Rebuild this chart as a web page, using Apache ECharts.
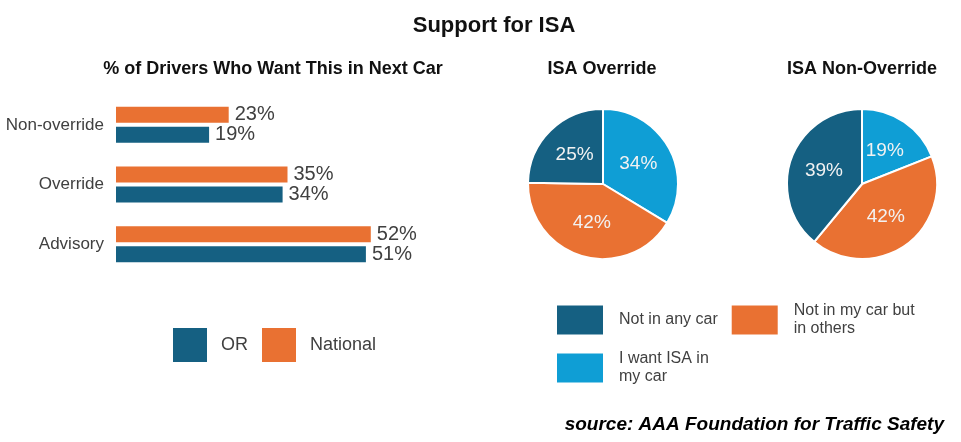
<!DOCTYPE html>
<html>
<head>
<meta charset="utf-8">
<script src="https://cdn.jsdelivr.net/npm/echarts@6/dist/echarts.min.js"></script>
<style>html,body{margin:0;padding:0;background:#fff}#c{width:961px;height:442px}</style>
</head>
<body>
<div id="c"></div>
<script>
const barCategories = ['Non-override', 'Override', 'Advisory'];
const nationalValues = [23, 35, 52];
const orValues = [19, 34, 51];
const pieNames = ['I want ISA in my car', 'Not in my car but in others', 'Not in any car'];
const overrideValues = [34, 42, 25];
const nonOverrideValues = [19, 42, 39];
const legendPieOrder = ['Not in any car', 'Not in my car but in others', 'I want ISA in my car'];
const legendPieLabels = {
  'Not in any car': 'Not in any car',
  'Not in my car but in others': 'Not in my car but\nin others',
  'I want ISA in my car': 'I want ISA in\nmy car'
};

const C_DARK = '#156082', C_ORANGE = '#E97132', C_LIGHT = '#0F9ED5';
const pieColors = [C_LIGHT, C_ORANGE, C_DARK];
const FONT = "'Liberation Sans', Arial, sans-serif";
const TXT = '#404040';

function pieData(vals) {
  return pieNames.map((n, i) => ({ name: n, value: vals[i], itemStyle: { color: pieColors[i] } }));
}

const chart = echarts.init(document.getElementById('c'), null, { renderer: 'canvas' });
chart.setOption({
  animation: false,
  textStyle: { fontFamily: FONT },
  title: [
    { text: 'Support for ISA', left: 494, top: 26, textAlign: 'center', textVerticalAlign: 'middle', padding: 0,
      textStyle: { fontSize: 22, fontWeight: 'bold', color: '#111', fontFamily: FONT } },
    { text: '% of Drivers Who Want This in Next Car', left: 273, top: 69, textAlign: 'center', textVerticalAlign: 'middle', padding: 0,
      textStyle: { fontSize: 18, fontWeight: 'bold', color: '#111', fontFamily: FONT } },
    { text: 'ISA Override', left: 602, top: 69, textAlign: 'center', textVerticalAlign: 'middle', padding: 0,
      textStyle: { fontSize: 18, fontWeight: 'bold', color: '#111', fontFamily: FONT } },
    { text: 'ISA Non-Override', left: 862, top: 69, textAlign: 'center', textVerticalAlign: 'middle', padding: 0,
      textStyle: { fontSize: 18, fontWeight: 'bold', color: '#111', fontFamily: FONT } },
    { text: 'source: AAA Foundation for Traffic Safety', left: 944, top: 425, textAlign: 'right', textVerticalAlign: 'middle', padding: 0,
      textStyle: { fontSize: 19, fontWeight: 'bold', fontStyle: 'italic', color: '#000', fontFamily: FONT } }
  ],
  legend: [
    { data: ['OR', 'National'], left: 173, top: 328, padding: 0, orient: 'horizontal',
      itemWidth: 34, itemHeight: 34, itemGap: 14, icon: 'rect', selectedMode: false,
      textStyle: { fontSize: 18, color: TXT, padding: [0, 0, 0, 9], fontFamily: FONT } },
    { data: legendPieOrder, left: 555, top: 302, padding: 0, orient: 'horizontal', width: 370,
      itemWidth: 48, itemHeight: 31, itemGap: 12, icon: 'rect', selectedMode: false,
      formatter: n => legendPieLabels[n],
      textStyle: { fontSize: 16, lineHeight: 18, color: TXT, padding: [0, 0, 0, 10], fontFamily: FONT } }
  ],
  grid: { left: 116, top: 95, width: 294, height: 179, containLabel: false },
  xAxis: { type: 'value', min: 0, max: 60, show: false, splitLine: { show: false } },
  yAxis: {
    type: 'category', data: barCategories, inverse: true,
    axisLine: { show: false }, axisTick: { show: false },
    axisLabel: { fontSize: 17, color: TXT, margin: 12, fontFamily: FONT }
  },
  series: [
    { name: 'National', type: 'bar', data: nationalValues, barWidth: 16, barGap: '25%',
      itemStyle: { color: C_ORANGE },
      label: { show: true, position: 'right', distance: 6, formatter: '{c}%', fontSize: 20, color: TXT, fontFamily: FONT } },
    { name: 'OR', type: 'bar', data: orValues, barWidth: 16, barGap: '25%',
      itemStyle: { color: C_DARK },
      label: { show: true, position: 'right', distance: 6, formatter: '{c}%', fontSize: 20, color: TXT, fontFamily: FONT } },
    { name: 'ISA Override', type: 'pie', center: [603, 184], radius: 75, startAngle: 90, clockwise: true,
      data: pieData(overrideValues),
      itemStyle: { borderColor: '#fff', borderWidth: 2 },
      label: { show: true, position: 'inside', formatter: '{c}%', fontSize: 19, color: '#f2f2f2', fontFamily: FONT },
      labelLine: { show: false }, emphasis: { disabled: true } },
    { name: 'ISA Non-Override', type: 'pie', center: [862, 184], radius: 75, startAngle: 90, clockwise: true,
      data: pieData(nonOverrideValues),
      itemStyle: { borderColor: '#fff', borderWidth: 2 },
      label: { show: true, position: 'inside', formatter: '{c}%', fontSize: 19, color: '#f2f2f2', fontFamily: FONT },
      labelLine: { show: false }, emphasis: { disabled: true } }
  ]
});
</script>
</body>
</html>
